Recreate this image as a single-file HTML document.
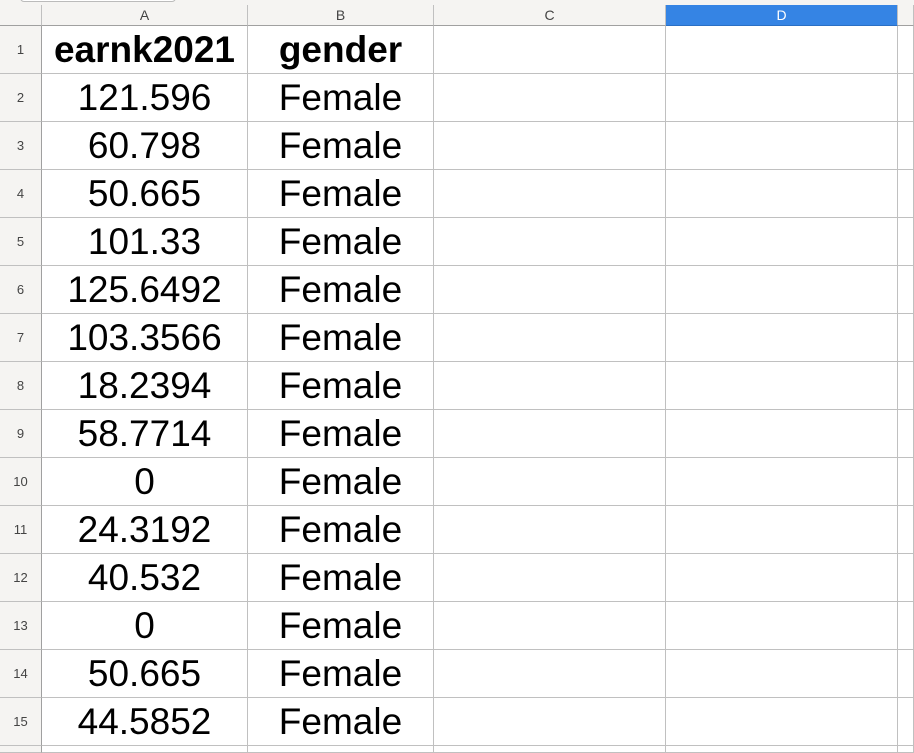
<!DOCTYPE html>
<html><head><meta charset="utf-8"><style>
html,body{margin:0;width:914px;height:753px;overflow:hidden;background:#fff;font-family:"Liberation Sans",sans-serif;position:relative}
.a{position:absolute;box-sizing:border-box}
.hdr{background:#f5f4f2;color:#444;font-size:14px;text-align:center;line-height:20px;border-right:1px solid #c0c0c0;border-bottom:1px solid #a0a0a0}
.rh{background:#f5f4f2;color:#444;font-size:13px;text-align:center;border-bottom:1px solid #c0c0c0;border-right:1px solid #a0a0a0;overflow:hidden}
.c{font-size:37px;text-align:center;color:#000;border-right:1px solid #c0c0c0;border-bottom:1px solid #c0c0c0;white-space:nowrap;overflow:hidden}
</style></head><body>
<div class="a" style="left:0;top:0;width:914px;height:5px;background:#f5f4f2"></div>
<div class="a" style="left:20px;top:-6px;width:156px;height:8px;border:1px solid #bbb;border-radius:4px;background:#fff"></div>
<div id="g"></div>
<script>
const colL=[0,42,248,434,666,898,914];
const names=["","A","B","C","D",""];
const rows=[["earnk2021","gender"],["121.596","Female"],["60.798","Female"],["50.665","Female"],["101.33","Female"],["125.6492","Female"],["103.3566","Female"],["18.2394","Female"],["58.7714","Female"],["0","Female"],["24.3192","Female"],["40.532","Female"],["0","Female"],["50.665","Female"],["44.5852","Female"]];
const g=document.getElementById('g');
let h='';
for(let i=0;i<6;i++){
  const w=colL[i+1]-colL[i];
  const sel=i==4;
  h+=`<div class="a hdr" style="left:${colL[i]}px;top:5px;width:${w}px;height:21px;${sel?'background:#3584e4;color:#fff;border-bottom-color:#2a6fc4;':''}">${names[i]}</div>`;
}
for(let r=0;r<16;r++){
  const y=26+r*48;
  const ht=Math.min(48,753-y);
  h+=`<div class="a rh" style="left:0;top:${y}px;width:42px;height:${ht}px;line-height:48px">${r<15?r+1:''}</div>`;
  for(let i=1;i<6;i++){
    const w=colL[i+1]-colL[i];
    const v=(rows[r]&&i<=2)?rows[r][i-1]:'';
    const b=r==0?'font-weight:bold;':'';
    h+=`<div class="a c" style="left:${colL[i]}px;top:${y}px;width:${w}px;height:${ht}px;line-height:48px;${b}">${v}</div>`;
  }
}
g.innerHTML=h;
</script>
</body></html>
